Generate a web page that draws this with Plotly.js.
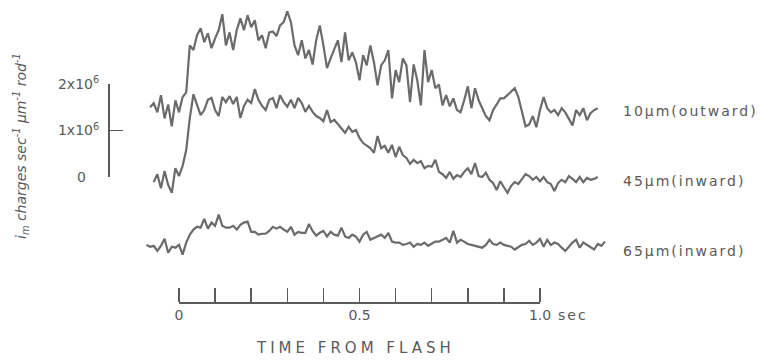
<!DOCTYPE html>
<html>
<head>
<meta charset="utf-8">
<script src="https://cdn.plot.ly/plotly-3.0.1.min.js"></script>
<style>
html,body{margin:0;padding:0;background:#fff;}
#chart{width:763px;height:361px;}
</style>
</head>
<body>
<div id="chart"></div>
<script>
// Time from flash (s)
const times = [-0.09,-0.08,-0.07,-0.06,-0.05,-0.04,-0.03,-0.02,-0.01,0.00,
0.01,0.02,0.03,0.04,0.05,0.06,0.07,0.08,0.09,0.10,
0.11,0.12,0.13,0.14,0.15,0.16,0.17,0.18,0.19,0.20,
0.21,0.22,0.23,0.24,0.25,0.26,0.27,0.28,0.29,0.30,
0.31,0.32,0.33,0.34,0.35,0.36,0.37,0.38,0.39,0.40,
0.41,0.42,0.43,0.44,0.45,0.46,0.47,0.48,0.49,0.50,
0.51,0.52,0.53,0.54,0.55,0.56,0.57,0.58,0.59,0.60,
0.61,0.62,0.63,0.64,0.65,0.66,0.67,0.68,0.69,0.70,
0.71,0.72,0.73,0.74,0.75,0.76,0.77,0.78,0.79,0.80,
0.81,0.82,0.83,0.84,0.85,0.86,0.87,0.88,0.89,0.90,
0.91,0.92,0.93,0.94,0.95,0.96,0.97,0.98,0.99,1.00,
1.01,1.02,1.03,1.04,1.05,1.06,1.07,1.08,1.09,1.10,
1.11,1.12,1.13,1.14,1.15,1.16,1.17,1.18];

// Membrane current, units of 1e6 charges s^-1 um^-1 rod^-1 (relative to pre-flash level)
const im10 = [null,0.00,0.09,-0.11,0.26,-0.24,0.06,-0.41,0.15,-0.11,
0.22,0.32,1.33,1.23,1.55,1.70,1.40,1.59,1.27,1.48,
1.66,2.00,1.33,1.61,1.23,1.66,1.91,1.66,1.98,1.72,
1.87,1.44,1.55,1.27,1.61,1.63,1.53,1.76,1.83,2.06,
1.83,1.33,1.12,1.44,1.05,1.23,0.92,1.44,1.76,1.33,
0.84,1.05,1.23,1.44,0.97,1.61,1.01,1.18,0.97,0.58,
1.12,0.90,1.33,0.97,0.47,0.90,1.01,1.23,0.19,0.80,
0.54,1.05,0.90,0.11,0.92,0.58,0.04,1.23,0.54,0.80,
0.41,0.49,0.04,0.26,0.02,0.19,-0.06,-0.11,0.15,0.45,
-0.02,0.41,0.15,-0.02,-0.19,-0.28,-0.06,0.06,0.19,0.19,
0.26,0.32,0.41,0.22,-0.11,-0.41,-0.37,-0.19,-0.43,-0.06,
0.22,-0.02,-0.11,-0.06,-0.17,-0.02,-0.11,-0.24,-0.39,-0.06,
-0.17,-0.02,-0.28,-0.13,-0.06,-0.02,null,null];

const im45 = [null,null,-0.11,0.06,-0.24,0.13,-0.17,-0.34,0.19,0.02,
0.24,0.58,1.27,1.78,1.55,1.33,1.44,1.66,1.70,1.44,
1.31,1.72,1.61,1.74,1.57,1.72,1.27,1.53,1.66,1.59,
1.89,1.66,1.53,1.44,1.66,1.70,1.48,1.76,1.61,1.51,
1.66,1.48,1.70,1.59,1.40,1.53,1.40,1.31,1.27,1.20,
1.44,1.18,1.23,1.14,1.05,0.95,1.08,0.97,1.01,0.84,
0.73,0.67,0.62,0.52,0.88,0.62,0.67,0.52,0.69,0.43,
0.65,0.47,0.41,0.28,0.37,0.30,0.34,0.19,0.24,0.22,
0.37,0.11,0.06,-0.02,0.11,-0.04,0.04,0.00,0.11,0.19,
0.06,0.30,0.02,0.00,0.09,-0.06,-0.13,-0.28,-0.09,-0.22,
-0.34,-0.19,-0.11,-0.15,-0.04,0.06,0.02,-0.06,0.00,-0.09,
0.00,-0.11,-0.15,-0.30,-0.13,-0.06,-0.11,0.02,-0.04,-0.11,
0.00,-0.11,-0.02,-0.06,-0.04,0.00,null,null];

const im65 = [0.04,0.00,0.02,-0.09,0.02,0.17,-0.13,0.00,-0.02,0.04,
-0.17,0.09,0.26,0.37,0.43,0.41,0.60,0.39,0.52,0.45,
0.69,0.45,0.41,0.41,0.45,0.37,0.47,0.52,0.54,0.32,
0.32,0.26,0.28,0.28,0.34,0.43,0.39,0.43,0.37,0.32,
0.43,0.26,0.32,0.30,0.30,0.49,0.34,0.24,0.30,0.34,
0.22,0.32,0.26,0.24,0.41,0.22,0.19,0.26,0.22,0.11,
0.26,0.32,0.15,0.19,0.22,0.26,0.19,0.30,0.11,0.09,
0.09,0.04,0.06,0.09,0.00,0.06,0.04,0.09,0.02,0.06,
0.11,0.11,0.15,0.19,0.09,0.34,0.09,0.15,0.11,0.06,
0.04,0.02,0.00,-0.02,0.04,0.15,0.06,0.04,0.09,0.04,
0.02,0.00,-0.06,0.00,0.04,0.06,0.13,0.04,0.09,0.17,
0.00,0.15,0.04,0.09,0.06,-0.02,-0.09,0.00,0.09,0.15,
-0.02,0.09,0.04,0.00,-0.06,0.06,0.02,0.11];

const seriesNames = ["10\u00b5m(outward)", "45\u00b5m(inward)", "65\u00b5m(inward)"];
const seriesValues = [im10, im45, im65];

// Scale bars / tick labels
const timeTicks = [0,0.1,0.2,0.3,0.4,0.5,0.6,0.7,0.8,0.9,1.0];
const timeLabelVals = [0, 0.5, 1.0];
const timeLabelText = ["0","0.5","1.0"];
const currentTicks = [0,1,2];
const currentTickText = ["0&nbsp;&nbsp;&nbsp;","1x10<sup>6</sup>","2x10<sup>6</sup>"];

// ---- presentation (offsets, styles) ----
const displayOffset = [1.5, 0, -1.5];
const W = 763, H = 361;
const x0px = 179, x1px = 540;          // t=0 and t=1 pixel
const pxPerSec = (x1px - x0px);
const y0px = 177, pxPerUnit = 46.5;     // current 0 of the scale bar
const xRange = [(0 - x0px)/pxPerSec, (W - x0px)/pxPerSec];
const yRange = [(y0px - H)/pxPerUnit, y0px/pxPerUnit];
const ink = "#5a5a5a";
const lineInk = "#6b6b6b";
const font = "DejaVu Sans, Arial, sans-serif";
const sp = (s, n) => '<span style="letter-spacing:' + n + 'px">' + s + '</span>';

const traces = seriesValues.map((vals, i) => ({
  type: "scatter", mode: "lines",
  x: times,
  y: vals.map(v => v === null ? null : v + displayOffset[i]),
  line: {color: lineInk, width: 2.2},
  connectgaps: false, hoverinfo: "skip", showlegend: false,
  xaxis: "x", yaxis: "y"
}));
traces.push({type: "scatter", mode: "lines", x: [], y: [], xaxis: "x2", yaxis: "y2",
  showlegend: false, hoverinfo: "skip"});
traces.push({type: "scatter", mode: "lines", x: [], y: [], xaxis: "x3", yaxis: "y2",
  showlegend: false, hoverinfo: "skip"});

const annotations = seriesNames.map((n, i) => ({
  text: sp(n, 2), xref: "x", yref: "y",
  x: (621 - x0px)/pxPerSec, y: displayOffset[i], xanchor: "left", yanchor: "middle",
  yshift: -4, showarrow: false, font: {family: font, size: 14, color: ink}
}));
annotations.push({
  text: sp("sec", 2), xref: "x", yref: "paper", x: (556 - x0px)/pxPerSec, y: (H - 315)/H,
  xanchor: "left", yanchor: "middle", showarrow: false,
  font: {family: font, size: 14, color: ink}
});
annotations.push({
  text: sp("TIME FROM FLASH", 4), xref: "x", yref: "paper",
  x: (355 - x0px)/pxPerSec, y: (H - 348)/H, xanchor: "center", yanchor: "middle",
  showarrow: false, font: {family: font, size: 15, color: ink}
});
annotations.push({
  text: "<i>i<sub>m</sub> charges sec<sup>-1</sup> \u00b5m<sup>-1</sup> rod<sup>-1</sup></i>",
  xref: "paper", yref: "paper", x: 21/W, y: (H - 146)/H, textangle: -90,
  xanchor: "center", yanchor: "middle", showarrow: false,
  font: {family: font, size: 14, color: ink}
});

const timeAxisBase = {
  domain: [x0px/W, x1px/W], range: [0, 1], anchor: "free", position: (H - 302)/H,
  showgrid: false, zeroline: false, fixedrange: true, tickmode: "array"
};

const layout = {
  width: W, height: H,
  margin: {l: 0, r: 0, t: 0, b: 0, pad: 0},
  paper_bgcolor: "#fff", plot_bgcolor: "rgba(0,0,0,0)",
  showlegend: false,
  xaxis: {range: xRange, visible: false, domain: [0, 1], fixedrange: true},
  yaxis: {range: yRange, visible: false, domain: [0, 1], fixedrange: true},
  xaxis2: Object.assign({}, timeAxisBase, {
    side: "top",
    showline: true, linecolor: ink, linewidth: 1.5,
    ticks: "outside", ticklen: 14, tickwidth: 1.5, tickcolor: ink,
    tickvals: timeTicks, showticklabels: false
  }),
  xaxis3: Object.assign({}, timeAxisBase, {
    overlaying: "x2", side: "bottom", showline: false, ticks: "",
    tickvals: timeLabelVals, ticktext: timeLabelText, showticklabels: true,
    tickfont: {family: font, size: 14, color: ink}, ticklabelstandoff: 3
  }),
  yaxis2: {
    domain: [(H - y0px)/H, (H - y0px + 2*pxPerUnit)/H], range: [0, 2],
    anchor: "free", position: 108/W, side: "left",
    showline: true, linecolor: ink, linewidth: 1.5,
    ticks: "inside", ticklen: 13, tickwidth: 1.5, tickcolor: ink,
    tickmode: "array", tickvals: currentTicks, ticktext: currentTickText,
    tickfont: {family: font, size: 14, color: ink}, ticklabelstandoff: 6,
    showgrid: false, zeroline: false, fixedrange: true
  },
  annotations: annotations
};

Plotly.newPlot("chart", traces, layout, {staticPlot: true, displayModeBar: false});
</script>
</body>
</html>
